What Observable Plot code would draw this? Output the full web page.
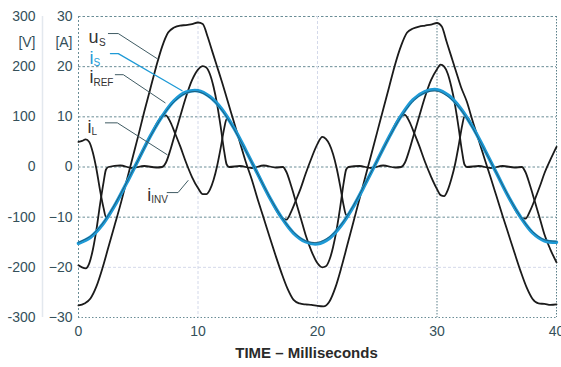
<!DOCTYPE html>
<html><head><meta charset="utf-8">
<script src="https://cdn.jsdelivr.net/npm/d3@7"></script>
<script src="https://cdn.jsdelivr.net/npm/@observablehq/plot@0.6"></script>
<style>
body{margin:0;background:#fff;}
#chart svg{display:block;}
</style></head><body><div id="chart"></div>
<script>
// ---- data (time in ms, values in A; voltage read on the A scale, x10 = V) ----
const uS_t = [0,0.5,1,1.5,2,2.5,3,3.5,4,4.5,5,5.5,6,6.5,7,7.5,8,8.5,9,9.5,10,10.4,10.8,11.2,11.6,12,12.5,13,13.5,14,14.5,15,15.5,16,16.5,17,17.5,18,18.5,19,19.5,20,
  20.5,21,21.5,22,22.5,23,23.5,24,24.5,25,25.5,26,26.5,27,27.5,28,28.5,29,29.5,30,30.4,30.8,31.2,31.6,32,32.5,33,33.5,34,34.5,35,35.5,36,36.5,37,37.5,38,38.5,39,39.5,40];
const uS_v = [-27.6,-27.2,-26.2,-23.8,-20.2,-16,-11.8,-7.6,-3,1.6,6.2,11,15.5,20,24,26.8,27.8,28.2,28.3,28.5,28.8,28.5,26,23,20,17,13,9,5,1,-2.5,-6.5,-10.2,-14,-17.7,-21.2,-24.3,-26.5,-27.2,-27.4,-27.5,-27.7,
  -27.8,-26.8,-24,-20,-15.5,-11,-6.5,-2,2.5,7,11.5,16,20.5,24.2,26.8,27.6,28,28.2,28.4,28.7,28,25,22,19,16,13,9,5.3,1.5,-2.2,-6,-9.8,-13.5,-17.2,-20.8,-24,-26.3,-27.2,-27.3,-27.5,-27.4];

const iS_t = [0,1,2,3,4,5,6,7,8,9,10,11,12,13,14,15,16,17,18,19,20,21,22,23,24,25,26,27,28,29,30,31,32,33,34,35,36,37,38,39,40];
const iS_v = [-15.2,-14.0,-11.5,-7.8,-3.3,1.4,6.1,10.1,13.2,14.9,15.2,14.0,11.5,7.8,3.3,-1.4,-6.1,-10.1,-13.2,-14.9,-15.3,-14.2,-11.6,-7.9,-3.4,1.3,6.0,10.2,13.4,15.0,15.4,14.2,11.6,7.9,3.4,-1.3,-6.0,-10.0,-13.1,-14.7,-15.0];

const iREF_t = iS_t;
const iREF_v = [-15.0,-13.8,-11.3,-7.6,-3.2,1.4,6.0,10.0,13.0,14.7,15.0,13.8,11.3,7.6,3.2,-1.4,-6.0,-10.0,-13.0,-14.7,-15.0,-13.9,-11.4,-7.7,-3.3,1.3,5.9,10.0,13.1,14.8,15.1,13.9,11.4,7.7,3.3,-1.3,-5.9,-9.9,-12.9,-14.5,-14.8];

const iL_t = [0,0.3,0.6,0.9,1.2,1.5,1.8,2.1,2.3,2.5,3.5,4.5,5.5,6.5,7.0,7.3,7.7,8.1,8.5,9.0,9.5,10.0,10.4,10.7,11.0,11.3,11.6,11.9,12.2,12.4,12.6,13.5,14.5,15.5,16.5,17.1,17.4,17.8,18.2,18.6,19.0,19.5,20.0,20.4,20.7,21.0,21.3,21.6,21.9,22.2,22.4,22.6,23.5,24.5,25.5,26.5,27.0,27.3,27.7,28.1,28.5,29.0,29.5,30.0,30.3,30.6,30.9,31.2,31.5,31.8,32.1,32.3,32.5,33.5,34.5,35.5,36.5,37.1,37.4,37.8,38.2,38.6,39.0,39.5,40.0];
const iL_v = [-19.6,-20.0,-20.2,-19.2,-16.5,-12.5,-7.5,-3,-0.5,0,0.3,-0.2,0.2,-0.1,0,0.8,3.5,6.8,10,14,17.3,19.4,20.1,19.8,18.5,16,12.5,8,3,0.5,0,0.2,-0.2,0.3,-0.1,0,-1,-3.8,-7,-10.2,-13.5,-16.8,-19.2,-20,-19.8,-18.5,-16,-12.5,-8,-3,-0.5,0,0.2,-0.2,0.3,-0.1,0,0.8,3.5,6.8,10,14,17.3,19.5,20.4,20,18.6,16,12.5,8,3,0.5,0,0.2,-0.2,0.2,-0.1,0,-1,-3.8,-7,-10.2,-13.5,-16.5,-19];

const iINV_t = [0,0.3,0.6,0.9,1.2,1.5,1.8,2.1,2.3,2.5,3,4,5,6,7,7.3,7.7,8.1,8.5,9.0,9.5,10.0,10.4,10.7,11.0,11.3,11.6,11.9,12.2,12.4,12.6,13,14,15,16,17,17.4,17.8,18.2,18.6,19.0,19.5,20.0,20.4,20.7,21.0,21.3,21.6,21.9,22.2,22.4,22.6,23,24,25,26,27,27.3,27.7,28.1,28.5,29.0,29.5,30.0,30.3,30.6,30.9,31.2,31.5,31.8,32.1,32.3,32.5,33,34,35,36,37,37.4,37.8,38.2,38.6,39.0,39.5,40.0];
const iINV_v = [5.0,5.2,5.5,5.0,2.9,-0.4,-4.6,-8.2,-10,-9.7,-7.8,-3.3,1.4,6.1,10.1,10.3,8.9,6.6,4.2,0.9,-2.0,-4.2,-5.4,-5.4,-4.5,-2.6,0.2,3.8,7.8,9.6,9.4,7.8,3.3,-1.4,-6.1,-10.1,-10.5,-8.9,-6.6,-4.2,-1.4,1.8,4.6,6.0,5.6,4.5,2.6,-0.2,-3.8,-7.8,-9.6,-9.4,-7.9,-3.4,1.3,6.0,10.2,10.4,9.0,6.7,4.3,1.0,-1.9,-4.4,-5.6,-5.8,-4.6,-2.4,0.4,4.1,8.2,10.1,10.0,7.9,3.4,-1.3,-6.0,-10.0,-10.3,-8.7,-6.4,-3.9,-1.2,1.5,4.0];

const xTicks = [0,10,20,30,40];
const yTicks = [30,20,10,0,-10,-20,-30];
const darkGridY = [30,20,10,0,-10];
const lightGridY = [-20];
const lightGridX = [10,20];
const dottedGridX = [30,40];

// label texts
const labelMain = [
  {t:0.83, v:24.8, s:"u", c:"#333"},
  {t:0.92, v:20.6, s:"i", c:"#1e9ad6"},
  {t:0.92, v:16.7, s:"i", c:"#333"},
  {t:0.75, v:6.8,  s:"i", c:"#333"},
  {t:5.75, v:-6.7, s:"i", c:"#333"}
];
const labelSub = [
  {t:1.72, v:24.2, s:"S", c:"#333"},
  {t:1.25, v:20.2, s:"S", c:"#1e9ad6"},
  {t:1.25, v:16.1, s:"REF", c:"#333"},
  {t:1.08, v:6.4,  s:"L", c:"#333"},
  {t:6.08, v:-7.2, s:"INV", c:"#333"}
];
const leaders = [
  {id:"u",  t:[2.5,3.33,6.58], v:[26.6,26.6,21.6]},
  {id:"r",  t:[3.08,3.75,7.25], v:[18.4,18.4,12.8]},
  {id:"l",  t:[2.25,3.25,7.42], v:[8.8,8.8,2.45]},
  {id:"n",  t:[7.42,8.33,9.17], v:[-5.1,-5.1,-2.7]}
];
const leaderS = {t:[2.67,3.33,8.67], v:[22.6,22.6,15.2]};

const rows = (t, v) => t.map((x, i) => ({t: x, v: v[i]}));
const leaderRows = leaders.flatMap(d => d.t.map((x, i) => ({id: d.id, t: x, v: d.v[i]})));

const ink = "#34505a";
const chart = Plot.plot({
  width: 561, height: 367,
  marginLeft: 78, marginRight: 5, marginTop: 16, marginBottom: 50,
  style: {fontFamily: "'Liberation Sans', Arial, sans-serif", fontSize: "14px", color: ink, background: "#fff"},
  x: {domain: [0, 40]},
  y: {domain: [-30, 30]},
  marks: [
    Plot.ruleX([0], {dx: -36, stroke: "#e3e8ee", strokeWidth: 1.5}),
    Plot.ruleY(darkGridY, {stroke: "#6a8d96", strokeDasharray: "2.5,2"}),
    Plot.ruleY(lightGridY, {stroke: "#d4d9ea", strokeDasharray: "3,2"}),
    Plot.ruleY([-30], {stroke: "#6a8d96", strokeDasharray: "1.5,2"}),
    Plot.ruleX([0], {stroke: "#6a8d96", strokeDasharray: "2,2"}),
    Plot.ruleX(lightGridX, {stroke: "#d4d9ea", strokeDasharray: "3,2"}),
    Plot.ruleX(dottedGridX, {stroke: "#5a7f89", strokeDasharray: "1.5,1.5"}),
    Plot.axisX({ticks: xTicks, tickSize: 0, tickPadding: 9, label: null, fill: ink}),
    Plot.axisY({ticks: yTicks, tickSize: 0, tickPadding: 6, label: null, fill: ink}),
    Plot.axisY({ticks: yTicks, tickSize: 0, tickPadding: 43, label: null, tickFormat: d => String(d * 10), fill: ink}),
    Plot.text(["[A]"], {frameAnchor: "left", y: [24.8], dx: -6, textAnchor: "end", fill: ink}),
    Plot.text(["[V]"], {frameAnchor: "left", y: [24.8], dx: -43, textAnchor: "end", fill: ink}),
    Plot.text(["TIME – Milliseconds"], {frameAnchor: "bottom", dy: 40, dx: -11, fontWeight: "bold", fontSize: 15, fill: "#2a2a2a"}),
    // curves
    Plot.line(rows(uS_t, uS_v), {x: "t", y: "v", stroke: "#1b1b1b", strokeWidth: 1.8, curve: "monotone-x"}),
    Plot.line(rows(iL_t, iL_v), {x: "t", y: "v", stroke: "#1b1b1b", strokeWidth: 1.8, curve: "monotone-x"}),
    Plot.line(rows(iINV_t, iINV_v), {x: "t", y: "v", stroke: "#1b1b1b", strokeWidth: 1.8, curve: "monotone-x"}),
    Plot.line(rows(iS_t, iS_v), {x: "t", y: "v", stroke: "#1e9ad6", strokeWidth: 3.5, curve: "catmull-rom"}),
    Plot.line(rows(iREF_t, iREF_v), {x: "t", y: "v", stroke: "#1b1b1b", strokeWidth: 0.8, strokeOpacity: 0.6, curve: "catmull-rom"}),
    // leaders
    Plot.line(leaderRows, {x: "t", y: "v", z: "id", stroke: "#3f5b63", strokeWidth: 1}),
    Plot.line(rows(leaderS.t, leaderS.v), {x: "t", y: "v", stroke: "#1e9ad6", strokeWidth: 1.2}),
    // labels
    Plot.text(labelMain, {x: "t", y: "v", text: "s", fill: "c", textAnchor: "start", lineAnchor: "bottom", fontSize: 18}),
    Plot.text(labelSub, {x: "t", y: "v", text: "s", fill: "c", textAnchor: "start", lineAnchor: "bottom", fontSize: 10})
  ]
});
document.getElementById("chart").appendChild(chart);
</script></body></html>
